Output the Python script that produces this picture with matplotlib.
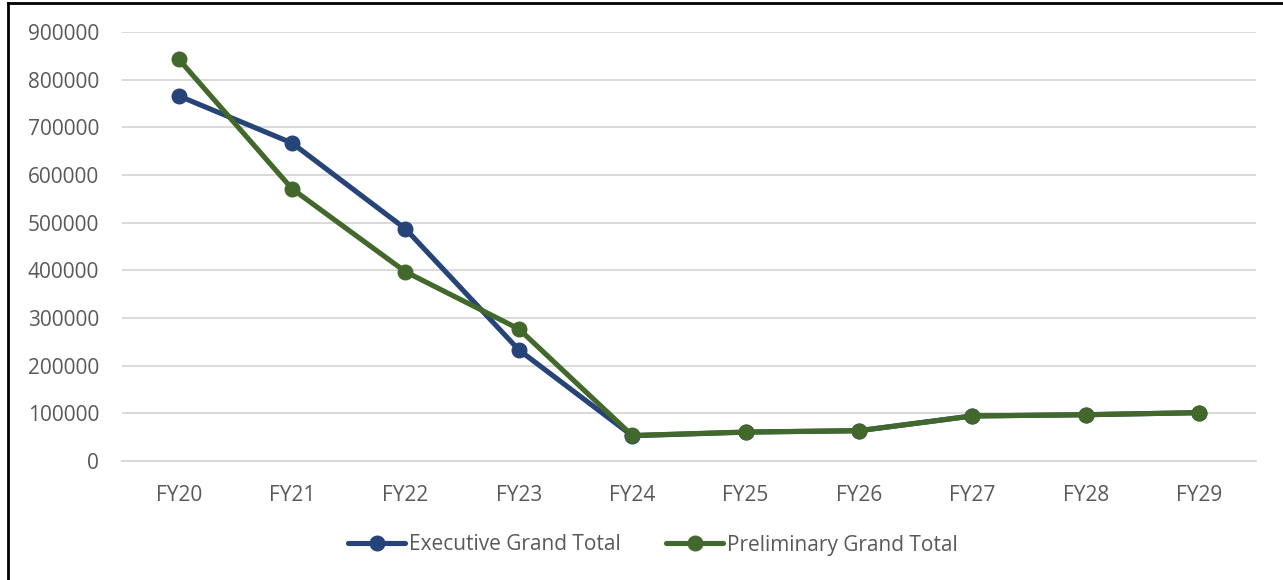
import matplotlib
matplotlib.use('Agg')
import matplotlib.pyplot as plt
from matplotlib.lines import Line2D

years = ['FY20', 'FY21', 'FY22', 'FY23', 'FY24', 'FY25', 'FY26', 'FY27', 'FY28', 'FY29']
executive = [766000, 667000, 487000, 233000, 53000, 60500, 63500, 94500, 97000, 101500]
preliminary = [843000, 571000, 397000, 277000, 53500, 60800, 63600, 94400, 97100, 101300]
yticks = [0, 100000, 200000, 300000, 400000, 500000, 600000, 700000, 800000, 900000]

blue = '#264478'
green = '#43682b'
grey_text = '#595959'

plt.rcParams['font.family'] = ['Open Sans', 'DejaVu Sans']

fig = plt.figure(figsize=(12.83, 5.80), dpi=100)
ax = fig.add_axes([0.0951, 0.2052, 0.8838, 0.7396])

x = range(len(years))
ax.plot(x, executive, color=blue, lw=3.7, marker='o', markersize=10.5,
        solid_capstyle='round', label='Executive Grand Total', zorder=3)
ax.plot(x, preliminary, color=green, lw=3.7, marker='o', markersize=10.5,
        solid_capstyle='round', label='Preliminary Grand Total', zorder=4)

ax.set_xlim(-0.5, len(years) - 0.5)
ax.set_ylim(0, 900000)
ax.set_xticks(list(x))
ax.set_xticklabels(years)
ax.set_yticks(yticks)
ax.set_yticklabels([str(v) for v in yticks])
ax.tick_params(axis='both', length=0, labelsize=15, colors=grey_text)
ax.tick_params(axis='x', pad=17)
ax.tick_params(axis='y', pad=16.5)
ax.grid(axis='y', color='#d9d9d9', lw=1.4)
ax.set_axisbelow(True)
for s in ['top', 'right', 'left']:
    ax.spines[s].set_visible(False)
ax.spines['bottom'].set_color('#d9d9d9')
ax.spines['bottom'].set_linewidth(1.4)

handles = [Line2D([], [], color=blue, lw=3.7, marker='o', markersize=10.5, solid_capstyle='round'),
           Line2D([], [], color=green, lw=3.7, marker='o', markersize=10.5, solid_capstyle='round')]
leg = fig.legend(handles, ['Executive Grand Total', 'Preliminary Grand Total'],
                 loc='center', bbox_to_anchor=(0.509, 1 - 545 / 580), ncol=2,
                 frameon=False, fontsize=15, handlelength=2.75, handletextpad=0.2,
                 columnspacing=2.15)
for t in leg.get_texts():
    t.set_color(grey_text)

# outer frame of the picture (top and left edges are visible)
fig.add_artist(Line2D([8 / 1283, 8 / 1283], [0, 1 - 3 / 580], transform=fig.transFigure,
                      color='black', lw=2))
fig.add_artist(Line2D([8 / 1283, 1], [1 - 3 / 580, 1 - 3 / 580], transform=fig.transFigure,
                      color='black', lw=2))

fig.savefig('out.png', dpi=100)
